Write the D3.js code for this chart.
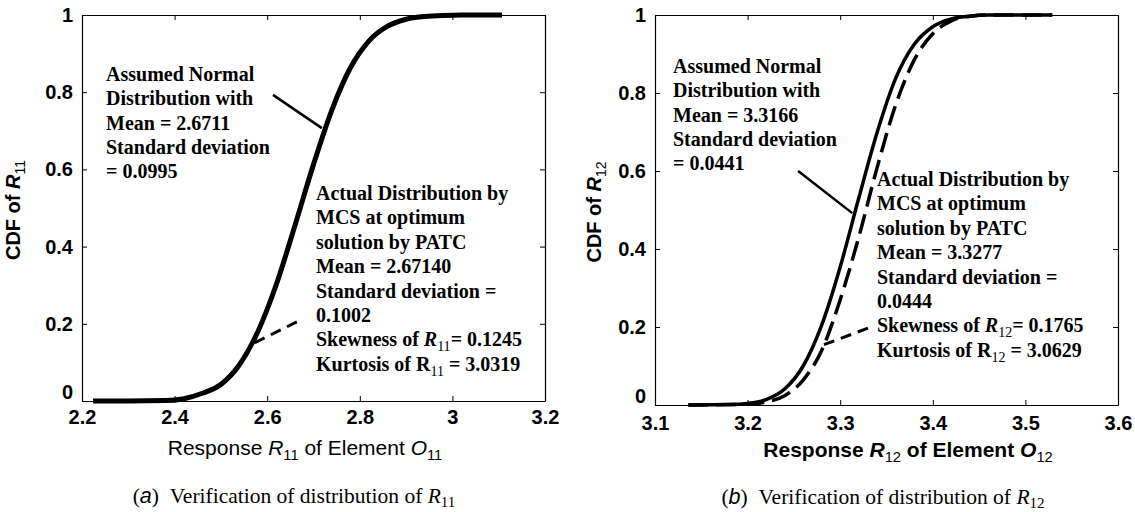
<!DOCTYPE html>
<html>
<head>
<meta charset="utf-8">
<script src="https://cdn.jsdelivr.net/npm/d3@7"></script>
<style>
  body { margin: 0; background: #fff; }
</style>
</head>
<body>
<svg id="chart" width="1135" height="512"></svg>
<script>
// ticks
var yTicks = [0, 0.2, 0.4, 0.6, 0.8, 1];
var xTicksA = [2.2, 2.4, 2.6, 2.8, 3, 3.2];
var xTicksB = [3.1, 3.2, 3.3, 3.4, 3.5, 3.6];

// (a) response R11 : assumed normal vs MCS
var normalA_x = [2.224, 2.30, 2.38, 2.42, 2.46, 2.50, 2.54, 2.58, 2.62, 2.66, 2.70, 2.74, 2.78, 2.82, 2.86, 2.90, 2.94, 2.98, 3.02, 3.107];
var normalA_y = [0, 0, 0.001, 0.006, 0.02, 0.043, 0.094, 0.18, 0.303, 0.455, 0.613, 0.755, 0.864, 0.933, 0.971, 0.989, 0.996, 0.999, 1, 1];
var mcsA_x = [2.224, 2.30, 2.38, 2.42, 2.46, 2.50, 2.54, 2.58, 2.62, 2.66, 2.70, 2.74, 2.78, 2.82, 2.86, 2.90, 2.94, 2.98, 3.02, 3.107];
var mcsA_y = [0, 0, 0.001, 0.006, 0.021, 0.045, 0.095, 0.18, 0.302, 0.453, 0.61, 0.752, 0.862, 0.933, 0.972, 0.99, 0.997, 0.999, 1, 1];

// (b) response R12
var normalB_x = [3.136, 3.18, 3.20, 3.22, 3.24, 3.26, 3.28, 3.30, 3.32, 3.34, 3.36, 3.38, 3.40, 3.42, 3.44, 3.46, 3.529];
var normalB_y = [0, 0.001, 0.004, 0.014, 0.041, 0.10, 0.205, 0.354, 0.53, 0.70, 0.838, 0.925, 0.97, 0.99, 0.997, 1, 1];
var mcsB_x = [3.136, 3.20, 3.22, 3.24, 3.26, 3.28, 3.30, 3.32, 3.34, 3.36, 3.38, 3.40, 3.42, 3.44, 3.46, 3.529];
var mcsB_y = [0, 0.002, 0.008, 0.024, 0.064, 0.14, 0.27, 0.43, 0.61, 0.77, 0.885, 0.952, 0.985, 0.997, 1, 1];

var sans = "'Liberation Sans', Arial, sans-serif";
var serif = "'Liberation Serif', 'Times New Roman', serif";
var svg = d3.select("#chart");

// text made of pieces: flags i = italic, s = subscript, n = normal weight, a = sans
function rich(text, parts, shift) {
  var down = false;
  shift = shift || 5;
  parts.forEach(function (p) {
    var f = p[1] || "";
    var ts = text.append("tspan").text(p[0]);
    if (f.indexOf("i") >= 0) ts.attr("font-style", "italic");
    if (f.indexOf("n") >= 0) ts.attr("font-weight", "normal");
    if (f.indexOf("a") >= 0) ts.attr("font-family", sans);
    if (f.indexOf("s") >= 0) {
      ts.attr("font-size", "0.7em").attr("font-weight", "normal");
      if (!down) { ts.attr("dy", shift); down = true; }
    } else if (down) {
      ts.attr("dy", -shift); down = false;
    }
  });
  return text;
}

function block(g, x0, y0, lh, lines) {
  lines.forEach(function (ln, i) {
    var t = g.append("text")
      .attr("x", x0).attr("y", y0 + i * lh)
      .attr("font-family", serif).attr("font-weight", "bold")
      .attr("font-size", 20).attr("fill", "#000");
    rich(t, typeof ln === "string" ? [[ln]] : ln);
  });
}

function drawPanel(p) {
  var x = d3.scaleLinear().domain(p.xDomain).range([p.left, p.right]);
  var y = d3.scaleLinear().domain([0, 1]).range([p.bottom, p.top]);
  var g = svg.append("g");
  var fmt = function (d) { return String(d); };
  var none = function () { return ""; };

  function style(a) {
    a.attr("font-family", sans).attr("font-size", 20).attr("font-weight", "bold");
    a.selectAll("text").attr("fill", "#000");
    a.selectAll("line").attr("stroke", "#000");
    a.select(".domain").attr("stroke", "#000").attr("stroke-width", 1.2);
  }

  g.append("g").attr("transform", "translate(0," + p.bottom + ")")
    .call(d3.axisBottom(x).tickValues(p.xTicks).tickFormat(fmt)
      .tickSizeInner(-5).tickSizeOuter(0).tickPadding(p.xPad))
    .call(style);
  g.append("g").attr("transform", "translate(0," + p.top + ")")
    .call(d3.axisTop(x).tickValues(p.xTicks).tickFormat(none)
      .tickSizeInner(-5).tickSizeOuter(0))
    .call(style);
  var ya = g.append("g").attr("transform", "translate(" + p.left + ",0)")
    .call(d3.axisLeft(y).tickValues(yTicks).tickFormat(fmt)
      .tickSizeInner(-5).tickSizeOuter(0).tickPadding(9))
    .call(style);
  // the "0" label sits a little above the axis in the original
  ya.selectAll(".tick text").filter(function (d) { return d === 0; }).attr("y", -9);
  g.append("g").attr("transform", "translate(" + p.right + ",0)")
    .call(d3.axisRight(y).tickValues(yTicks).tickFormat(none)
      .tickSizeInner(-5).tickSizeOuter(0))
    .call(style);

  var line = d3.line()
    .x(function (d) { return x(d[0]); })
    .y(function (d) { return y(d[1]); })
    .curve(d3.curveMonotoneX);

  g.append("path").datum(d3.zip(p.normX, p.normY))
    .attr("d", line).attr("fill", "none").attr("stroke", "#000")
    .attr("stroke-width", p.solidW).attr("stroke-linejoin", "round");
  g.append("path").datum(d3.zip(p.mcsX, p.mcsY))
    .attr("d", line).attr("fill", "none").attr("stroke", "#000")
    .attr("stroke-width", 3.5).attr("stroke-dasharray", "20,8");

  // leader lines
  g.append("line")
    .attr("x1", x(p.lead1[0])).attr("y1", y(p.lead1[1]))
    .attr("x2", x(p.lead1[2])).attr("y2", y(p.lead1[3]))
    .attr("stroke", "#000").attr("stroke-width", 2.5);
  g.append("line")
    .attr("x1", x(p.lead2[0])).attr("y1", y(p.lead2[1]))
    .attr("x2", x(p.lead2[2])).attr("y2", y(p.lead2[3]))
    .attr("stroke", "#000").attr("stroke-width", 3).attr("stroke-dasharray", "11,7");

  block(g, p.note1[0], p.note1[1], 24.3, p.note1Lines);
  block(g, p.note2[0], p.note2[1], 24.4, p.note2Lines);

  // y title
  var yt = g.append("text")
    .attr("transform", "translate(" + p.yTitle[0] + "," + p.yTitle[1] + ") rotate(-90)")
    .attr("text-anchor", "middle")
    .attr("font-family", sans).attr("font-size", 20).attr("font-weight", "bold");
  rich(yt, [["CDF of "], ["R", "i"], [p.sub, "s"]]);

  // x title
  var xt = g.append("text")
    .attr("x", p.xTitle[0]).attr("y", p.xTitle[1])
    .attr("text-anchor", "middle")
    .attr("font-family", sans).attr("font-size", 21)
    .attr("font-weight", p.xTitleBold ? "bold" : "normal");
  rich(xt, [["Response "], ["R", "i"], [p.sub, "s"], [" of Element "], ["O", "i"], [p.sub, "s"]]);

  // caption
  var cap = g.append("text")
    .attr("x", p.caption[0]).attr("y", p.caption[1])
    .attr("text-anchor", "middle")
    .attr("font-family", serif).attr("font-size", 21.5);
  rich(cap, [["("], [p.letter, "ia"], [")\u00a0\u00a0Verification of distribution of "], ["R", "i"], [p.sub, "s"]], 4);
}

drawPanel({
  xDomain: [2.2, 3.2], xTicks: xTicksA,
  left: 82, right: 545, top: 15, bottom: 401, xPad: 9,
  normX: normalA_x, normY: normalA_y, mcsX: mcsA_x, mcsY: mcsA_y, solidW: 5,
  lead1: [2.6125, 0.793, 2.718, 0.707],
  lead2: [2.664, 0.205, 2.563, 0.145],
  note1: [106, 81], note1Lines: ["Assumed Normal", "Distribution with", "Mean = 2.6711", "Standard deviation", "= 0.0995"],
  note2: [316, 200], note2Lines: [
    "Actual Distribution by", "MCS at optimum", "solution by PATC", "Mean = 2.67140",
    "Standard deviation =", "0.1002",
    [["Skewness of "], ["R", "i"], ["11", "s"], ["= 0.1245"]],
    [["Kurtosis of R"], ["11", "s"], [" = 3.0319"]]
  ],
  sub: "11", letter: "a",
  yTitle: [20, 210], xTitle: [305, 455], xTitleBold: false, caption: [294, 503]
});

drawPanel({
  xDomain: [3.1, 3.6], xTicks: xTicksB,
  left: 655, right: 1118, top: 15, bottom: 405, xPad: 11,
  normX: normalB_x, normY: normalB_y, mcsX: mcsB_x, mcsY: mcsB_y, solidW: 3.5,
  lead1: [3.2546, 0.60, 3.313, 0.492],
  lead2: [3.330, 0.197, 3.2816, 0.154],
  note1: [673, 73], note1Lines: ["Assumed Normal", "Distribution with", "Mean = 3.3166", "Standard deviation", "= 0.0441"],
  note2: [877, 186], note2Lines: [
    "Actual Distribution by", "MCS at optimum", "solution by PATC", "Mean = 3.3277",
    "Standard deviation =", "0.0444",
    [["Skewness of "], ["R", "i"], ["12", "s"], ["= 0.1765"]],
    [["Kurtosis of R"], ["12", "s"], [" = 3.0629"]]
  ],
  sub: "12", letter: "b",
  yTitle: [601, 212], xTitle: [908, 457], xTitleBold: true, caption: [883, 504]
});
</script>
</body>
</html>
